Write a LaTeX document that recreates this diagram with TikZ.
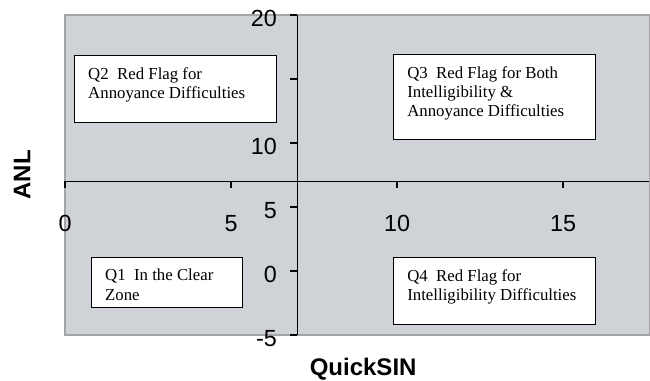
\documentclass[tikz,border=0pt]{standalone}
\usepackage{fontspec}
\setmainfont{Liberation Serif}
\newfontfamily\chartsans{Liberation Sans}
\usepackage{xcolor}
\usepackage{tikz}
\definecolor{plotgray}{RGB}{207,210,215}
\definecolor{framegray}{RGB}{165,165,168}

\begin{document}
\begin{tikzpicture}[x=24.9pt, y=9.6pt,
		quadbox/.style={draw, line width=0.8pt, fill=white, anchor=north west, inner sep=0pt},
		quadtext/.style={anchor=north west, align=left, inner sep=0pt, font=\fontsize{12.6}{14.5}\selectfont},
		ticklab/.style={inner sep=0pt, font=\chartsans\fontsize{17.5}{20}\selectfont},
		axtitle/.style={inner sep=0pt, font=\chartsans\bfseries\fontsize{18}{21}\selectfont}]
	\useasboundingbox (-1.958,-8.59) rectangle (17.62,21.17);
	% plot area
	\draw [draw=framegray, fill=plotgray, line width=1pt] (0,-5) rectangle (17.6,20);
	
	% axes and ticks
	\draw [line width=0.9pt] (0,7) -- (17.6,7);
	\draw [line width=0.9pt] (7,-5) -- (7,20);
	\draw [line width=0.8pt] (0,7) -- ++(0,-5.25pt);
	\draw [line width=0.8pt] (5,7) -- ++(0,-5.25pt);
	\draw [line width=0.8pt] (10,7) -- ++(0,-5.25pt);
	\draw [line width=0.8pt] (15,7) -- ++(0,-5.25pt);
	\draw [line width=0.8pt] (7,20) -- ++(-5.25pt,0);
	\draw [line width=0.8pt] (7,15) -- ++(-5.25pt,0);
	\draw [line width=0.8pt] (7,10) -- ++(-5.25pt,0);
	\draw [line width=0.8pt] (7,5) -- ++(-5.25pt,0);
	\draw [line width=0.8pt] (7,0) -- ++(-5.25pt,0);
	\draw [line width=0.8pt] (7,-5) -- ++(-5.25pt,0);
	
	\node (xlab0) [ticklab, anchor=base] at (0,3.1) {0};
	\node (xlab5) [ticklab, anchor=base] at (5,3.1) {5};
	\node (xlab10) [ticklab, anchor=base] at (10,3.1) {10};
	\node (xlab15) [ticklab, anchor=base] at (15,3.1) {15};
	\node (ylab20) [ticklab, anchor=base east] at (6.39,19.08) {20};
	\node (ylab10) [ticklab, anchor=base east] at (6.39,9.08) {10};
	\node (ylab5) [ticklab, anchor=base east] at (6.39,4.08) {5};
	\node (ylab0) [ticklab, anchor=base east] at (6.39,-0.92) {0};
	\node (ylabm5) [ticklab, anchor=base east] at (6.39,-5.92) {-5};
	
	\node (anl) [axtitle, rotate=90] at (-1.295,7.5) {ANL};
	\node (quicksin) [axtitle] at (8.98,-7.7) {QuickSIN};
	
	% quadrant boxes
	\node (q2box) [quadbox, minimum width=151.6pt, minimum height=50.3pt] at (0.27,16.875) {};
	\node (q2) [quadtext] at ([shift={(10.5pt,-9pt)}]q2box.north west) {Q2\ \ Red Flag for\\Annoyance Difficulties};
	\node (q3box) [quadbox, minimum width=151.4pt, minimum height=63.7pt] at (9.88,16.95) {};
	\node (q3) [quadtext] at ([shift={(10.5pt,-9pt)}]q3box.north west) {Q3\ \ Red Flag for Both\\Intelligibility \&\\Annoyance Difficulties};
	\node (q1box) [quadbox, minimum width=113.3pt, minimum height=37.4pt] at (0.78,1.09) {};
	\node (q1) [quadtext] at ([shift={(10.5pt,-9pt)}]q1box.north west) {Q1\ \ In the Clear\\Zone};
	\node (q4box) [quadbox, minimum width=151.4pt, minimum height=50.2pt] at (9.88,1.09) {};
	\node (q4) [quadtext] at ([shift={(10.5pt,-9pt)}]q4box.north west) {Q4\ \ Red Flag for\\Intelligibility Difficulties};
\end{tikzpicture}
\end{document}
